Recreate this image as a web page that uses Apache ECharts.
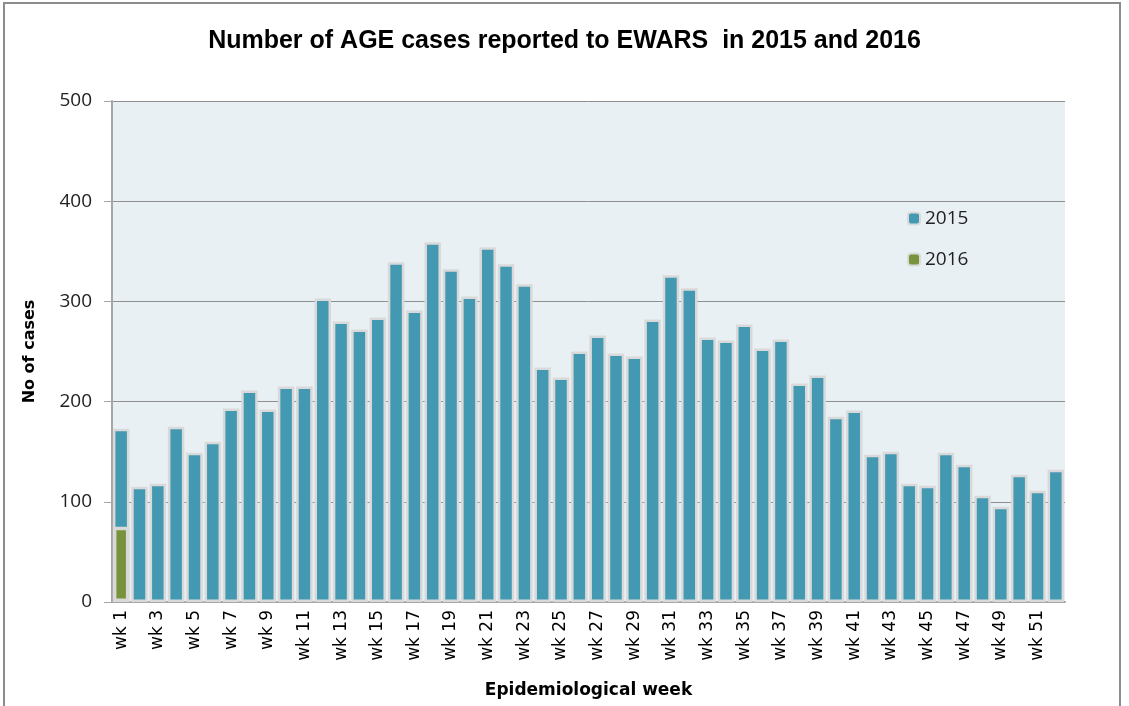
<!DOCTYPE html>
<html><head><meta charset="utf-8">
<script src="https://cdn.jsdelivr.net/npm/echarts@6/dist/echarts.min.js"></script>
<style>html,body{margin:0;padding:0;background:#fff}#c{width:1129px;height:706px}</style>
</head><body><div id="c"></div>
<script>
const weeks = [];
for (let i = 1; i <= 52; i++) weeks.push('wk ' + i);
const cases2015 = [173,115,118,175,149,160,193,211,192,215,215,303,280,272,284,339,291,359,332,305,354,337,317,234,224,250,266,248,245,282,326,313,264,261,277,253,262,218,226,185,191,147,150,118,116,149,137,106,95,127,111,132];
const cases2016 = [75];
const yTicks = [0,100,200,300,400,500];

const chart = echarts.init(document.getElementById('c'));
chart.setOption({
  animation:false,
  backgroundColor:'#fff',
  title:{text:'Number of AGE cases reported to EWARS  in 2015 and 2016',left:'center',top:24,
    textStyle:{fontFamily:'Liberation Sans Narrow, Liberation Sans',fontWeight:'bold',fontSize:25,color:'#000'}},
  graphic:[{type:'rect',shape:{x:4,y:3,width:1116,height:720},style:{fill:'none',stroke:'#8c8c8c',lineWidth:2},z:-1}],
  legend:{data:['2015','2016'],orient:'vertical',left:902,top:204,itemWidth:12,itemHeight:12,itemGap:22,
    textStyle:{fontFamily:'Open Sans',fontSize:19,color:'#222'},
    itemStyle:{borderColor:'#d9d9d9',borderWidth:2}},
  grid:{left:112,right:64,top:101,bottom:104,show:true,backgroundColor:'#e8f0f4',borderWidth:0},
  xAxis:{type:'category',data:weeks,name:'Epidemiological week',nameLocation:'middle',nameGap:80,
    nameTextStyle:{fontFamily:'DejaVu Sans',fontWeight:'bold',fontSize:17,color:'#000'},
    axisLine:{lineStyle:{color:'#a6a6a6',width:2}},
    axisTick:{interval:0,length:7,lineStyle:{color:'#a6a6a6'}},
    axisLabel:{interval:1,rotate:90,fontFamily:'DejaVu Sans',fontSize:17,color:'#000',margin:8}},
  yAxis:{type:'value',min:0,max:500,interval:100,name:'No of cases',nameLocation:'middle',nameGap:74,
    nameTextStyle:{fontFamily:'DejaVu Sans',fontWeight:'bold',fontSize:16,color:'#000'},
    axisLine:{show:true,lineStyle:{color:'#a6a6a6',width:2}},
    axisTick:{show:true,length:8,lineStyle:{color:'#a6a6a6'}},
    axisLabel:{fontFamily:'Open Sans',fontSize:19,color:'#222',margin:20,
      formatter:v=>yTicks.includes(v)?String(v):''},
    splitLine:{lineStyle:{color:'#8f8f8f',width:1}}},
  series:[
    {name:'2015',type:'bar',data:cases2015,barWidth:'90%',barGap:'-100%',
      itemStyle:{color:'#4399b1',borderColor:'#d9d9d9',borderWidth:2.5}},
    {name:'2016',type:'bar',data:cases2016,barWidth:'90%',barGap:'-100%',
      itemStyle:{color:'#77933c',borderColor:'#d9d9d9',borderWidth:3.5}}
  ]
});
</script></body></html>
